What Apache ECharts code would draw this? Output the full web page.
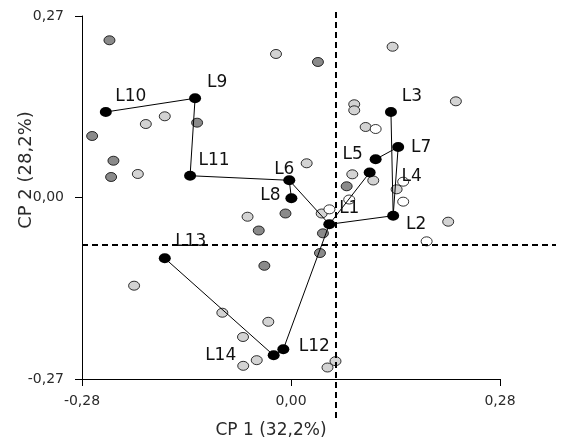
<!DOCTYPE html>
<html>
<head>
<meta charset="utf-8">
<script src="https://cdn.jsdelivr.net/npm/echarts@6/dist/echarts.min.js"></script>
<style>
    html, body { margin: 0; padding: 0; background: #fff; }
    #pca_chart { width: 561px; height: 439px; }
</style>
</head>
<body>
<div id="pca_chart"></div>
<script>

// Chart data
// ------------------------------

// Axis ranges and ticks (CP 1 / CP 2 scores)
var xMin = -0.28, xMax = 0.28, xStep = 0.28;
var yMin = -0.27, yMax = 0.27, yStep = 0.27;

// Dashed reference lines
var refX = 0.0605;
var refY = -0.0684;

// Labelled points (black)
var labelNames = ['L1', 'L2', 'L3', 'L4', 'L5', 'L6', 'L7', 'L8', 'L9', 'L10', 'L11', 'L12', 'L13', 'L14'];
var labelPoints = [
    [0.0513, -0.0399], [0.1369, -0.0271], [0.1339, 0.1272], [0.1054, 0.0372],
    [0.1134, 0.0568], [-0.0023, 0.0256], [0.1436, 0.0751], [0.0005, -0.0010],
    [-0.1285, 0.1476], [-0.2481, 0.1272], [-0.1352, 0.0324], [-0.0103, -0.2258],
    [-0.1691, -0.0904], [-0.0232, -0.2348]
];

// Links between labelled points
var links = [
    ['L10', 'L9'], ['L9', 'L11'], ['L11', 'L6'], ['L6', 'L8'], ['L6', 'L1'],
    ['L1', 'L2'], ['L2', 'L3'], ['L2', 'L7'], ['L7', 'L5'], ['L1', 'L4'],
    ['L1', 'L12'], ['L12', 'L14'], ['L14', 'L13']
];

// Dark grey points
var darkPoints = [
    [-0.2432, 0.2339], [0.0361, 0.2016], [-0.1258, 0.1113], [-0.2664, 0.0915],
    [-0.2379, 0.0547], [-0.2410, 0.0305], [0.0746, 0.0167], [-0.0074, -0.0238],
    [-0.0432, -0.0491], [0.0428, -0.0533], [-0.0357, -0.1016], [0.0388, -0.0826]
];

// Light grey points
var lightPoints = [
    [-0.0201, 0.2135], [0.1361, 0.2243], [0.2209, 0.1431], [0.0847, 0.1387],
    [0.0847, 0.1297], [0.1000, 0.1049], [-0.1691, 0.1208], [-0.1945, 0.1093],
    [-0.2052, 0.0350], [0.0210, 0.0509], [0.0821, 0.0345], [0.1102, 0.0253],
    [0.1415, 0.0122], [-0.0582, -0.0286], [0.0411, -0.0238], [0.2106, -0.0360],
    [-0.2102, -0.1312], [-0.0920, -0.1714], [-0.0304, -0.1849], [-0.0643, -0.2075],
    [-0.0459, -0.2420], [-0.0640, -0.2504], [0.0596, -0.2435], [0.0489, -0.2529]
];

// White points
var whitePoints = [
    [0.1134, 0.1019], [0.1503, 0.0235], [0.1503, -0.0062], [0.0780, -0.0030],
    [0.0515, -0.0176], [0.1817, -0.0652]
];


// Layout and styles
// ------------------------------

var font = 'DejaVu Sans';
var textCol = '#2a2a2a';
var grid = { left: 82, right: 61, top: 16, bottom: 60 };
var overlay = { left: 82, right: 5, top: 11, bottom: 21 };

// label offsets (px) relative to each labelled point
var labelOffset = {
    L1: [20, -16], L2: [23, 9], L3: [21, -15], L4: [42, 4], L5: [-23, -5],
    L6: [-5, -11], L7: [23, 1], L8: [-21, -3], L9: [22, -16], L10: [25, -15],
    L11: [24, -15], L12: [31, -3], L13: [26, -17], L14: [-53, 0]
};

var commaFormat = function (v) {
    return v.toFixed(2).replace('.', ',');
};

var pointStyle = function (fill) {
    return { color: fill, borderColor: '#000', borderWidth: 0.8, opacity: 1 };
};


// Chart setup
// ------------------------------

var chartElement = document.getElementById('pca_chart');
var chart = echarts.init(chartElement, null, { renderer: 'canvas' });

// overlay axes share the scale of the main axes but span a larger area
var plotW = 561 - grid.left - grid.right;
var plotH = 439 - grid.top - grid.bottom;
var xPerPx = (xMax - xMin) / plotW;
var yPerPx = (yMax - yMin) / plotH;
var ovXMin = xMin - (grid.left - overlay.left) * xPerPx;
var ovXMax = xMax + (grid.right - overlay.right) * xPerPx;
var ovYMin = yMin - (grid.bottom - overlay.bottom) * yPerPx;
var ovYMax = yMax + (grid.top - overlay.top) * yPerPx;

var pointByName = {};
labelNames.forEach(function (n, i) { pointByName[n] = labelPoints[i]; });

var linkData = links.map(function (l) {
    return { coords: [pointByName[l[0]], pointByName[l[1]]] };
});

var labelData = labelNames.map(function (n, i) {
    return {
        name: n,
        value: labelPoints[i],
        label: { offset: labelOffset[n] }
    };
});

var axisCommon = {
    type: 'value',
    splitLine: { show: false },
    axisLine: { show: true, onZero: false, lineStyle: { color: '#000', width: 1 } },
    axisTick: { show: true, length: 7, lineStyle: { color: '#000', width: 1 } },
    nameLocation: 'middle'
};

var gridCommon = { containLabel: false, outerBoundsMode: 'none' };

chart.setOption({
    animation: false,
    textStyle: { fontFamily: font },
    grid: [
        Object.assign({ left: grid.left, right: grid.right, top: grid.top, bottom: grid.bottom }, gridCommon),
        Object.assign({ left: overlay.left, right: overlay.right, top: overlay.top, bottom: overlay.bottom }, gridCommon)
    ],
    // y axis title (sits above the axis middle in the original)
    graphic: [{
        type: 'text',
        x: 26,
        y: 170,
        rotation: Math.PI / 2,
        silent: true,
        style: {
            text: 'CP 2 (28,2%)',
            fontSize: 18,
            fontFamily: font,
            fill: textCol,
            align: 'center',
            verticalAlign: 'middle'
        }
    }],
    xAxis: [
        Object.assign({}, axisCommon, {
            gridIndex: 0,
            min: xMin, max: xMax, interval: xStep,
            axisLabel: { formatter: commaFormat, margin: 15, fontSize: 14, color: textCol, fontFamily: font },
            name: 'CP 1 (32,2%)',
            nameGap: 43,
            nameTextStyle: { fontSize: 17, color: textCol, fontFamily: font, padding: [0, 40, 0, 0] }
        }),
        { type: 'value', gridIndex: 1, min: ovXMin, max: ovXMax, show: false }
    ],
    yAxis: [
        Object.assign({}, axisCommon, {
            gridIndex: 0,
            min: yMin, max: yMax, interval: yStep,
            axisLabel: { formatter: commaFormat, margin: 18, fontSize: 14, color: textCol, fontFamily: font }
        }),
        { type: 'value', gridIndex: 1, min: ovYMin, max: ovYMax, show: false }
    ],
    series: [
        // dashed reference lines
        {
            type: 'scatter',
            xAxisIndex: 1, yAxisIndex: 1,
            symbolSize: 0,
            silent: true,
            z: 1,
            data: [[refX, refY]],
            markLine: {
                silent: true,
                symbol: 'none',
                label: { show: false },
                lineStyle: { color: '#000', width: 2, type: [6, 4] },
                data: [{ xAxis: refX }, { yAxis: refY }]
            }
        },
        {
            type: 'scatter', name: 'light', z: 2,
            symbolSize: [11, 9],
            itemStyle: pointStyle('#d3d3d3'),
            data: lightPoints
        },
        {
            type: 'scatter', name: 'dark', z: 2,
            symbolSize: [11, 9],
            itemStyle: pointStyle('#8a8a8a'),
            data: darkPoints
        },
        {
            type: 'scatter', name: 'white', z: 2,
            symbolSize: [11, 9],
            itemStyle: pointStyle('#ffffff'),
            data: whitePoints
        },
        // links
        {
            type: 'lines',
            coordinateSystem: 'cartesian2d',
            z: 3,
            silent: true,
            lineStyle: { color: '#000', width: 1, opacity: 1, curveness: 0 },
            data: linkData
        },
        // labelled points
        {
            type: 'scatter', name: 'labels', z: 4,
            symbolSize: [12, 10],
            itemStyle: { color: '#000', opacity: 1 },
            label: {
                show: true,
                position: 'inside',
                formatter: '{b}',
                fontSize: 17,
                color: '#111',
                fontFamily: font,
                align: 'center',
                verticalAlign: 'middle'
            },
            data: labelData
        }
    ]
});

</script>
</body>
</html>
